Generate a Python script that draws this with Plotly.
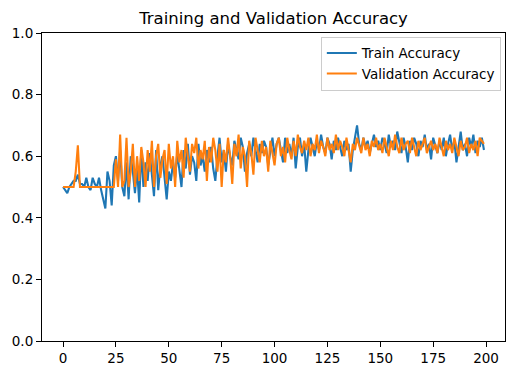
import plotly.graph_objects as go

epochs = list(range(200))

train_acc = [
    0.50,0.49,0.48,0.50,0.51,0.52,0.52,0.54,0.51,0.51,
    0.50,0.53,0.50,0.49,0.53,0.51,0.50,0.53,0.49,0.46,
    0.43,0.55,0.52,0.44,0.57,0.60,0.52,0.62,0.50,0.47,
    0.58,0.46,0.60,0.55,0.48,0.56,0.45,0.62,0.50,0.58,
    0.52,0.61,0.55,0.47,0.62,0.49,0.57,0.60,0.53,0.46,
    0.55,0.52,0.58,0.53,0.61,0.55,0.50,0.62,0.56,0.64,
    0.54,0.60,0.58,0.52,0.64,0.57,0.60,0.55,0.62,0.58,
    0.63,0.56,0.52,0.60,0.66,0.58,0.62,0.55,0.64,0.60,
    0.57,0.65,0.62,0.59,0.66,0.63,0.55,0.61,0.64,0.60,
    0.66,0.62,0.58,0.64,0.61,0.65,0.63,0.57,0.62,0.66,
    0.60,0.64,0.66,0.62,0.58,0.66,0.61,0.64,0.60,0.66,
    0.56,0.63,0.66,0.60,0.64,0.55,0.62,0.66,0.63,0.60,
    0.65,0.62,0.67,0.63,0.61,0.66,0.64,0.59,0.65,0.62,
    0.66,0.63,0.60,0.65,0.62,0.64,0.55,0.62,0.66,0.70,
    0.64,0.62,0.66,0.63,0.65,0.61,0.64,0.67,0.63,0.65,
    0.62,0.66,0.64,0.61,0.67,0.63,0.65,0.62,0.68,0.64,
    0.61,0.66,0.63,0.58,0.65,0.62,0.66,0.64,0.60,0.65,
    0.63,0.67,0.62,0.64,0.59,0.66,0.63,0.61,0.65,0.62,
    0.66,0.60,0.64,0.67,0.62,0.65,0.58,0.63,0.68,0.62,
    0.64,0.60,0.66,0.63,0.67,0.61,0.65,0.63,0.66,0.62,
]

val_acc = [
    0.50,0.50,0.50,0.50,0.50,0.50,0.55,0.635,0.50,0.50,
    0.50,0.50,0.50,0.50,0.50,0.50,0.50,0.50,0.50,0.50,
    0.50,0.50,0.50,0.50,0.50,0.59,0.50,0.67,0.50,0.52,
    0.66,0.50,0.55,0.64,0.50,0.60,0.52,0.63,0.58,0.50,
    0.62,0.55,0.65,0.50,0.60,0.64,0.53,0.59,0.62,0.51,
    0.64,0.56,0.60,0.50,0.65,0.58,0.62,0.53,0.66,0.60,
    0.55,0.64,0.61,0.66,0.56,0.62,0.59,0.65,0.52,0.63,
    0.58,0.66,0.62,0.55,0.64,0.50,0.62,0.58,0.66,0.60,
    0.51,0.64,0.60,0.67,0.56,0.63,0.60,0.50,0.65,0.61,
    0.54,0.66,0.62,0.58,0.65,0.60,0.63,0.55,0.65,0.61,
    0.57,0.64,0.66,0.60,0.63,0.58,0.66,0.62,0.59,0.65,
    0.60,0.67,0.63,0.61,0.65,0.62,0.66,0.60,0.64,0.62,
    0.67,0.61,0.65,0.63,0.60,0.66,0.62,0.64,0.61,0.67,
    0.62,0.65,0.63,0.60,0.66,0.62,0.58,0.64,0.62,0.66,
    0.63,0.61,0.66,0.62,0.64,0.60,0.65,0.63,0.66,0.62,
    0.64,0.61,0.66,0.63,0.60,0.65,0.62,0.67,0.63,0.61,
    0.66,0.62,0.64,0.65,0.61,0.66,0.63,0.60,0.65,0.62,
    0.64,0.66,0.61,0.63,0.65,0.62,0.64,0.61,0.66,0.63,
    0.60,0.65,0.62,0.64,0.61,0.66,0.63,0.60,0.65,0.62,
    0.63,0.66,0.61,0.64,0.62,0.65,0.60,0.66,0.65,0.64,
]

x_ticks = [0, 25, 50, 75, 100, 125, 150, 175, 200]
y_ticks = [0.0, 0.2, 0.4, 0.6, 0.8, 1.0]

font = "DejaVu Sans"

fig = go.Figure()
fig.add_trace(go.Scatter(x=epochs, y=train_acc, mode="lines", name="Train Accuracy",
                         line=dict(color="#1f77b4", width=2.08)))
fig.add_trace(go.Scatter(x=epochs, y=val_acc, mode="lines", name="Validation Accuracy",
                         line=dict(color="#ff7f0e", width=2.08)))

axis_common = dict(showgrid=False, zeroline=False, showline=True, linecolor="black",
                   linewidth=1.1, mirror=True, ticks="outside", ticklen=5,
                   tickwidth=1.1, tickcolor="black", automargin=False,
                   tickfont=dict(family=font, size=13.5, color="black"))

fig.update_layout(
    width=516, height=374,
    margin=dict(l=42, r=11, t=33, b=33, autoexpand=False),
    paper_bgcolor="white", plot_bgcolor="white",
    title=dict(text="Training and Validation Accuracy", x=(42 + 505) / 2 / 516,
               xanchor="center", y=1 - 18 / 374, yanchor="middle",
               font=dict(family=font, size=16.5, color="black")),
    xaxis=dict(range=[-9.95, 208.95], tickvals=x_ticks, **axis_common),
    yaxis=dict(range=[0, 1], tickvals=y_ticks, tickformat=".1f", **axis_common),
    legend=dict(x=0.991, y=0.988, xanchor="right", yanchor="top",
                bgcolor="rgba(255,255,255,0.8)", bordercolor="#cccccc", borderwidth=1,
                font=dict(family=font, size=13.5, color="black"),
                tracegroupgap=0, itemwidth=30),
    showlegend=True,
)

fig.write_html("out.html", config={"displayModeBar": False},
               post_script="document.body.style.margin='0px';document.body.style.padding='0px';")
